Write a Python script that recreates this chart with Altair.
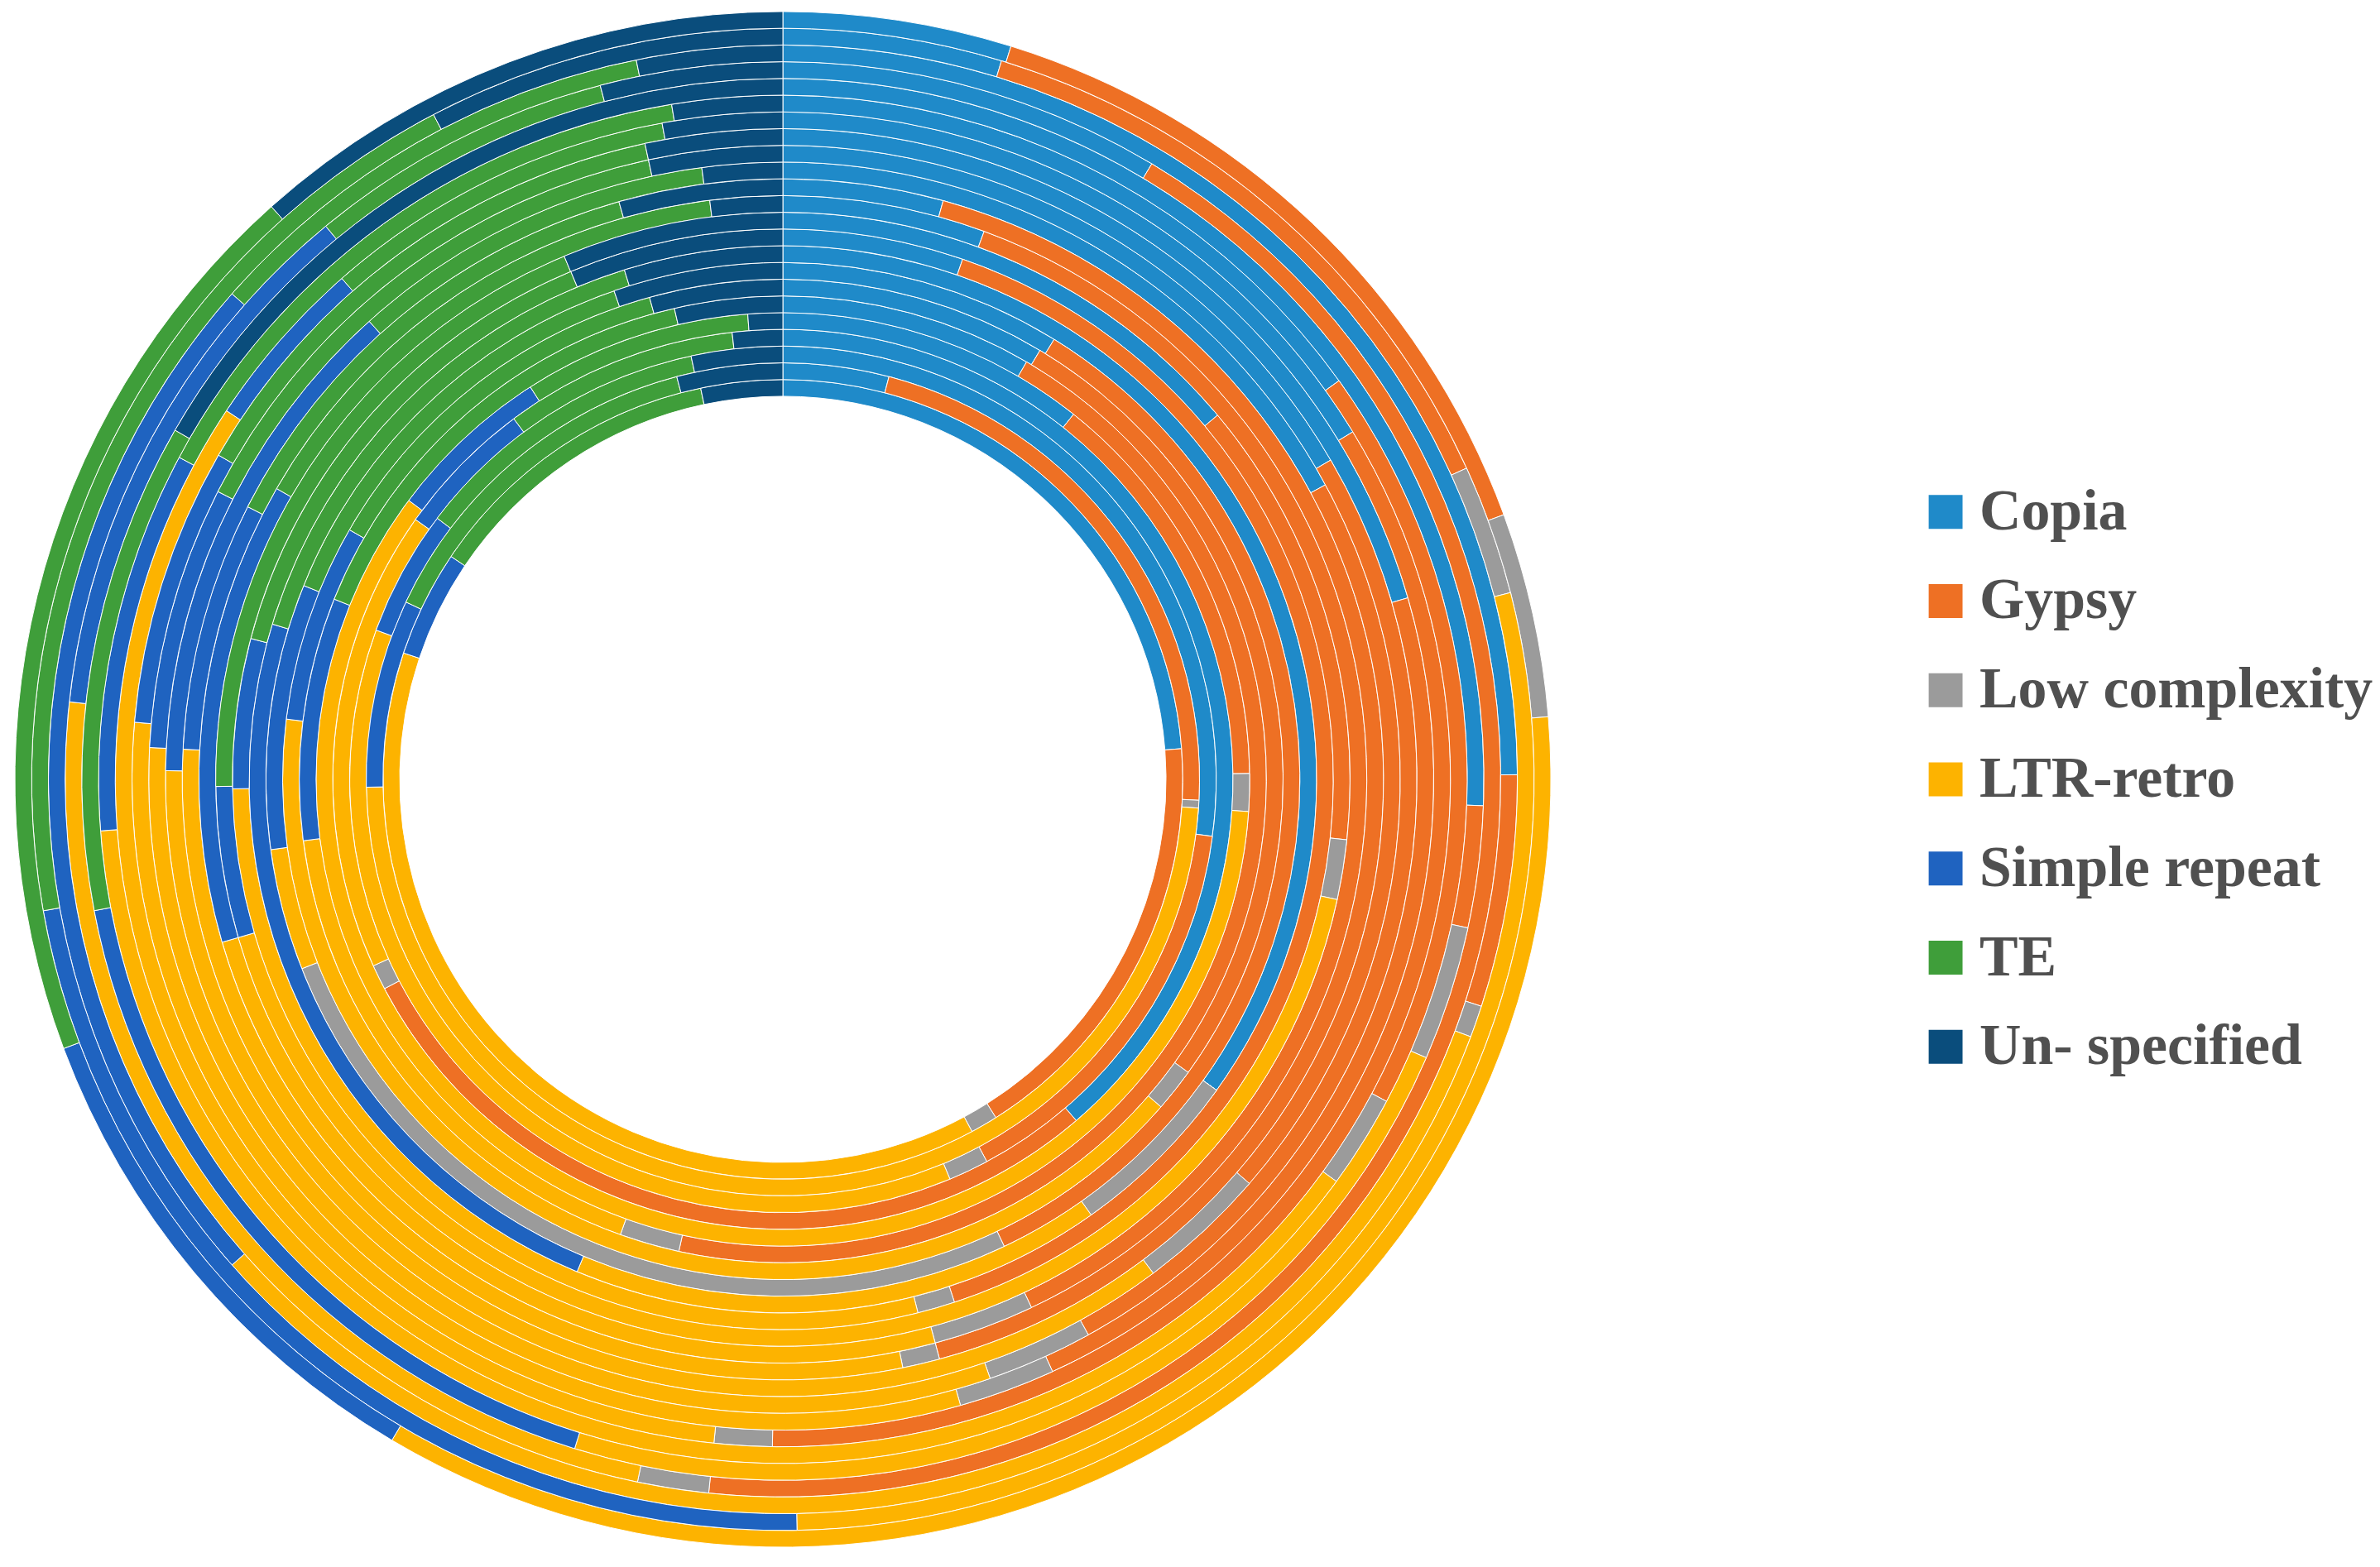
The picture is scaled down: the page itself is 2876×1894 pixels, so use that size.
import altair as alt
import pandas as pd

categories = ["Copia", "Gypsy", "Low complexity", "LTR-retro", "Simple repeat", "TE", "Un- specified"]
colors = ["#1F8AC9", "#EE7024", "#9B9B9B", "#FDB300", "#1F63C0", "#3F9E3A", "#0A4D7C"]

# percentage of each repeat class per ring, innermost ring first (23 rings)
copia = [23.8, 4.1, 27.1, 38.7, 10.7, 8.4, 8.6, 8.8, 34.9, 5.3, 13.9, 5.6, 4.3, 17.1, 16.6, 20.5, 16.3, 15.1, 25.6, 8.6, 24.9, 4.7, 4.8]
gypsy = [17.3, 21.7, 15.1, 28.6, 14.1, 45.0, 26.4, 34.2, 0.0, 39.7, 12.8, 37.4, 41.5, 19.3, 25.4, 22.7, 34.0, 17.7, 2.8, 43.1, 5.1, 13.5, 14.6]
low_complexity = [1.1, 0.3, 1.5, 0.9, 1.3, 2.0, 1.4, 26.1, 5.3, 1.1, 1.7, 2.8, 1.0, 3.4, 2.7, 2.4, 1.4, 2.2, 3.1, 1.6, 0.7, 2.8, 4.3]
ltr_retro = [38.0, 48.6, 36.9, 16.6, 59.1, 17.5, 40.6, 3.8, 16.1, 28.7, 42.1, 24.7, 29.0, 35.5, 31.1, 30.8, 32.7, 38.8, 23.3, 23.5, 32.8, 28.7, 34.8]
simple_repeat = [4.3, 7.3, 4.7, 5.0, 5.7, 8.1, 6.4, 8.3, 23.4, 4.4, 4.3, 12.8, 6.7, 13.1, 6.7, 6.9, 4.2, 9.0, 17.2, 12.3, 23.0, 22.5, 10.8]
te = [12.3, 13.9, 11.3, 8.4, 7.9, 15.3, 12.4, 13.6, 15.5, 14.6, 18.9, 14.7, 13.1, 9.6, 14.1, 13.3, 8.6, 14.6, 11.3, 6.9, 10.3, 20.1, 19.1]
unspecified = [3.3, 4.1, 3.4, 1.8, 1.2, 3.6, 4.3, 5.3, 4.8, 6.3, 6.3, 2.0, 4.4, 2.1, 3.4, 3.4, 2.9, 2.6, 16.7, 4.1, 3.2, 7.7, 11.6]

series = [copia, gypsy, low_complexity, ltr_retro, simple_repeat, te, unspecified]
n_rings = len(copia)

rows = []
for ring in range(n_rings):
    for j, cat in enumerate(categories):
        rows.append({
            "ring": ring + 1,
            "ring_in": ring,
            "ring_out": ring + 1,
            "category": cat,
            "order": j,
            "value": series[j][ring],
        })
df = pd.DataFrame(rows)

chart = alt.Chart(df).transform_stack(
    stack="value",
    groupby=["ring"],
    as_=["v0", "v1"],
    offset="normalize",
    sort=[alt.SortField("order", order="ascending")],
).mark_arc(stroke="white", strokeWidth=1.0).encode(
    theta=alt.Theta("v0:Q", scale=alt.Scale(domain=[0, 1], range=[0, 6.283185307179586])),
    theta2="v1:Q",
    radius=alt.Radius("ring_in:Q", scale=alt.Scale(type="linear", domain=[0, n_rings], range=[464, 930], zero=False)),
    radius2="ring_out:Q",
    color=alt.Color(
        "category:N",
        scale=alt.Scale(domain=categories, range=colors),
        sort=categories,
        legend=alt.Legend(
            title=None,
            orient="none",
            legendX=2313,
            legendY=575,
            symbolType="square",
            symbolSize=1681,
            symbolStrokeWidth=0,
            labelFont="Liberation Serif",
            labelFontWeight="bold",
            labelFontSize=70,
            labelColor="#505050",
            labelLimit=800,
            labelOffset=6,
            rowPadding=38,
            padding=0,
        ),
    ),
    order=alt.Order("order:Q"),
).properties(
    width=1880,
    height=1868,
    padding=0,
).configure_view(stroke=None)

chart.save("out.html", embed_options={"renderer": "svg", "actions": False})
